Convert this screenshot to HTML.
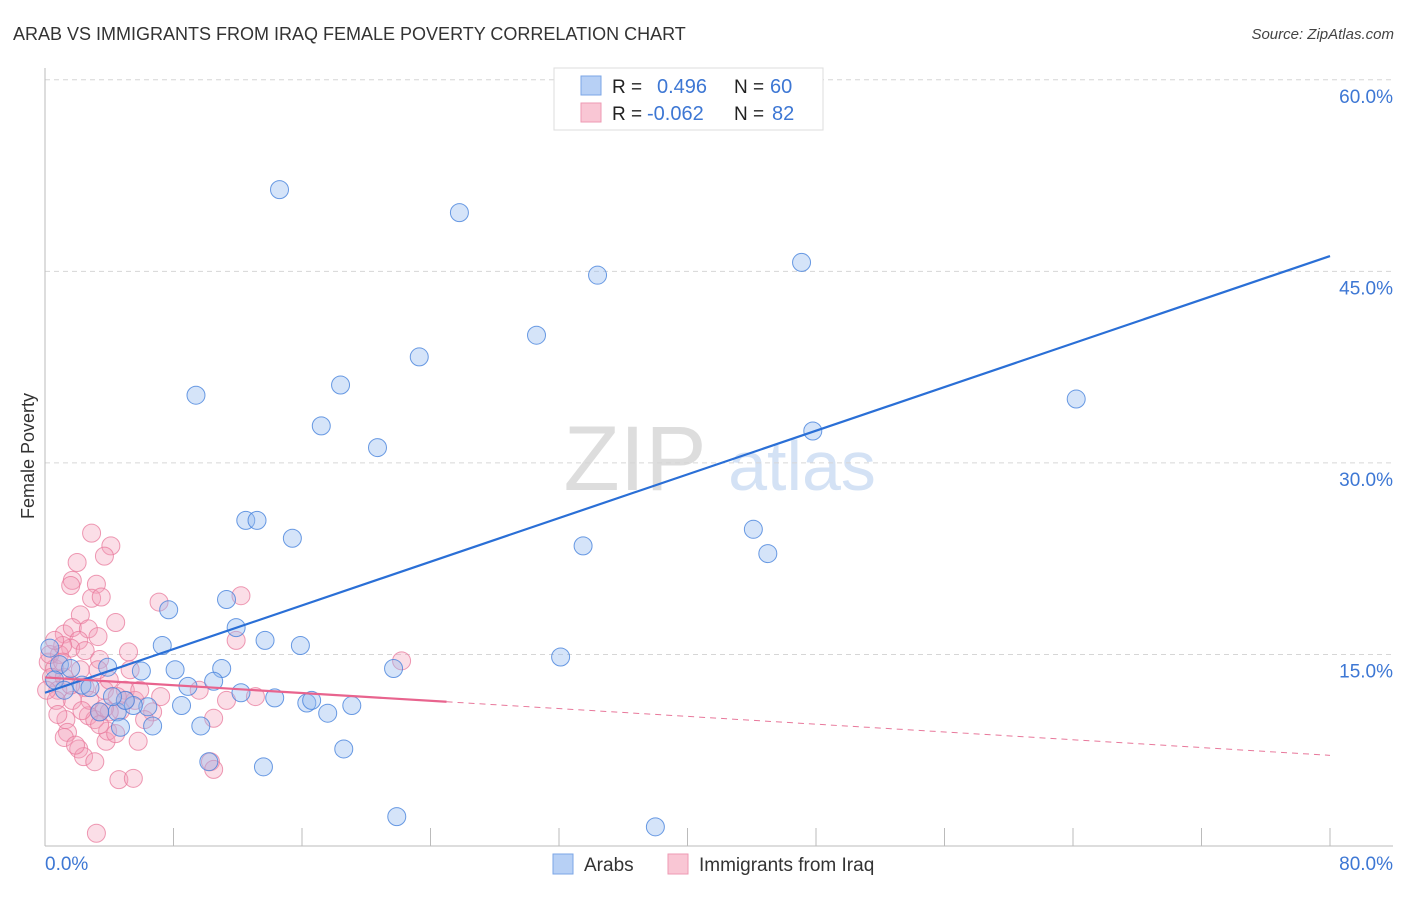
<!DOCTYPE html>
<html><head><meta charset="utf-8"><style>
body{margin:0;background:#fff;font-family:"Liberation Sans",sans-serif;}
svg text{font-family:"Liberation Sans",sans-serif;}
</style></head><body>
<svg id="chart" width="1406" height="892">
<text x="13" y="40" font-size="18" fill="#333">ARAB VS IMMIGRANTS FROM IRAQ FEMALE POVERTY CORRELATION CHART</text>
<text x="1394" y="39" font-size="15" fill="#444" font-style="italic" text-anchor="end">Source: ZipAtlas.com</text>
<text x="34" y="456" font-size="18" fill="#333" text-anchor="middle" transform="rotate(-90 34 456)">Female Poverty</text>
<g><text x="635" y="490" font-size="92" fill="#ddd" font-family="Liberation Serif" text-anchor="middle">ZIP</text><text x="802" y="490" font-size="70" fill="#d4e2f5" text-anchor="middle">atlas</text></g>
<g id="grid"></g><g id="axes"></g><g id="pts"></g><g id="trends"></g>
<g>
<rect x="554" y="68" width="269" height="62" fill="#fff" stroke="#ddd"/>
<rect x="581" y="76" width="20" height="19" fill="#b7d0f5" stroke="#7ba6e6"/>
<rect x="581" y="103" width="20" height="19" fill="#f9c6d4" stroke="#ee9ab3"/>
<text x="612" y="93" font-size="19" fill="#222">R = </text><text x="657" y="93" font-size="20" fill="#3d77d4">0.496</text>
<text x="734" y="93" font-size="19" fill="#222">N = </text><text x="770" y="93" font-size="20" fill="#3d77d4">60</text>
<text x="612" y="120" font-size="19" fill="#222">R = </text><text x="647" y="120" font-size="20" fill="#3d77d4">-0.062</text>
<text x="734" y="120" font-size="19" fill="#222">N = </text><text x="772" y="120" font-size="20" fill="#3d77d4">82</text>
</g>
<g>
<rect x="553" y="854" width="20" height="20" fill="#b7d0f5" stroke="#7ba6e6"/>
<text x="584" y="871" font-size="19" fill="#333">Arabs</text>
<rect x="668" y="854" width="20" height="20" fill="#f9c6d4" stroke="#ee9ab3"/>
<text x="699" y="871" font-size="19" fill="#333">Immigrants from Iraq</text>
</g>
</svg>
<script>
const yTicks=[15,30,45,60];
const yTickLabels=["15.0%","30.0%","45.0%","60.0%"];
const xTickLabels=["0.0%","80.0%"];
const arabX=[14.6,25.8,34.4,47.1,30.6,23.3,18.4,9.4,17.2,20.7,64.2,47.8,12.5,13.2,15.4,44.1,45.0,33.5,7.7,11.3,11.9,7.3,13.7,15.9,32.1,21.7,3.9,6.0,8.1,11.0,10.5,8.9,12.2,14.3,16.3,16.6,8.5,6.4,4.5,5.5,3.4,17.6,19.1,6.7,9.7,4.7,18.6,10.2,13.6,21.9,38.0,0.3,0.9,1.6,0.6,1.2,2.3,2.8,5.0,4.2];
const arabY=[51.4,49.6,44.7,45.7,40.0,38.3,36.1,35.3,32.9,31.2,35.0,32.5,25.5,25.5,24.1,24.8,22.9,23.5,18.5,19.3,17.1,15.7,16.1,15.7,14.8,13.9,14.0,13.7,13.8,13.9,12.9,12.5,12.0,11.6,11.2,11.4,11.0,10.9,10.5,11.0,10.5,10.4,11.0,9.4,9.4,9.3,7.6,6.6,6.2,2.3,1.5,15.5,14.2,13.9,13.0,12.2,12.6,12.4,11.4,11.7];
const iraqX=[2.9,4.1,2.0,3.7,1.7,1.6,3.2,2.9,3.5,2.2,4.4,1.2,1.7,2.7,3.3,2.1,1.6,5.2,0.2,0.6,0.9,0.4,1.2,0.8,2.2,2.5,3.7,4.0,5.0,5.6,4.7,3.4,2.7,1.3,1.4,1.2,2.1,2.4,3.1,3.8,3.9,4.4,5.0,7.2,6.7,5.8,9.6,11.3,7.1,12.2,11.9,10.5,13.1,10.3,10.5,3.2,4.6,5.5,22.2,1.7,0.7,2.8,0.1,0.3,1.1,0.8,3.1,4.0,5.9,5.3,2.5,3.4,1.9,3.7,4.5,1.6,1.1,0.6,2.3,3.4,6.2,3.3];
const iraqY=[24.5,23.5,22.2,22.7,20.8,20.4,20.5,19.4,19.5,18.1,17.5,16.6,17.1,17.0,16.4,16.1,15.5,15.2,14.4,13.9,15.0,13.2,13.2,12.2,13.8,12.4,12.2,13.0,12.2,11.4,10.6,10.5,10.2,9.9,8.9,8.5,7.6,7.0,6.6,8.2,9.0,8.8,11.4,11.7,10.5,8.2,12.2,11.4,19.1,19.6,16.1,10.0,11.7,6.6,6.0,1.0,5.2,5.3,14.5,11.4,11.4,11.4,12.2,15.0,15.7,10.3,9.9,10.5,12.2,13.8,15.3,14.6,7.9,10.8,11.7,12.6,14.4,16.1,10.6,9.5,9.9,13.8];
const arabTrend=[12.0,46.2];
const iraqTrend=[13.2,7.1];
const iraqSolidEnd=25;
const NS="http://www.w3.org/2000/svg";
const X0=45,X1=1330,Y0=846,PPY=12.77;
function sx(v){return X0+(v/80)*(X1-X0);}
function sy(v){return Y0-v*PPY;}
function mk(tag,attrs,parent){const e=document.createElementNS(NS,tag);for(const k in attrs)e.setAttribute(k,attrs[k]);parent.appendChild(e);return e;}
const grid=document.getElementById('grid'),axes=document.getElementById('axes'),pts=document.getElementById('pts'),tr=document.getElementById('trends');
yTicks.forEach((t,i)=>{
 const l=mk('line',{x1:X0,x2:1393,y1:sy(t),y2:sy(t),stroke:'#d6d6d6','stroke-dasharray':'5,4'},grid);
 
 
 const tx=mk('text',{x:1393,y:sy(t)+23,'font-size':19,fill:'#3d77d4','text-anchor':'end'},grid);
 tx.textContent=yTickLabels[i];
 
 
});
const ya=mk('line',{x1:X0,x2:X0,y1:68,y2:Y0,stroke:'#bbb'},axes);


const xa=mk('line',{x1:X0,x2:1393,y1:Y0,y2:Y0,stroke:'#bbb'},axes);


for(let i=1;i<=10;i++){const t=mk('line',{x1:sx(i*8),x2:sx(i*8),y1:828,y2:Y0,stroke:'#bbb'},axes);
 
 }
const xl0=mk('text',{x:45,y:870,'font-size':19,fill:'#3d77d4'},axes);xl0.textContent=xTickLabels[0];


const xl1=mk('text',{x:1393,y:870,'font-size':19,fill:'#3d77d4','text-anchor':'end'},axes);xl1.textContent=xTickLabels[1];


iraqX.forEach((v,i)=>{const c=mk('circle',{cx:sx(v),cy:sy(iraqY[i]),r:9,fill:'rgba(244,160,185,0.35)',stroke:'rgba(232,120,155,0.75)','stroke-width':1},pts);
 
 });
arabX.forEach((v,i)=>{const c=mk('circle',{cx:sx(v),cy:sy(arabY[i]),r:9,fill:'rgba(150,188,240,0.4)',stroke:'rgba(70,130,220,0.8)','stroke-width':1},pts);
 
 });
const bl=mk('line',{x1:sx(0),y1:sy(arabTrend[0]),x2:sx(80),y2:sy(arabTrend[1]),stroke:'#2a6fd6','stroke-width':2.2},tr);


const ym=iraqTrend[0]+(iraqTrend[1]-iraqTrend[0])*iraqSolidEnd/80;
const pl=mk('line',{x1:sx(0),y1:sy(iraqTrend[0]),x2:sx(iraqSolidEnd),y2:sy(ym),stroke:'#e8648e','stroke-width':2.2},tr);


const pd=mk('line',{x1:sx(iraqSolidEnd),y1:sy(ym),x2:sx(80),y2:sy(iraqTrend[1]),stroke:'#e8789b','stroke-width':1,'stroke-dasharray':'6,5'},tr);


</script>
</body></html>
